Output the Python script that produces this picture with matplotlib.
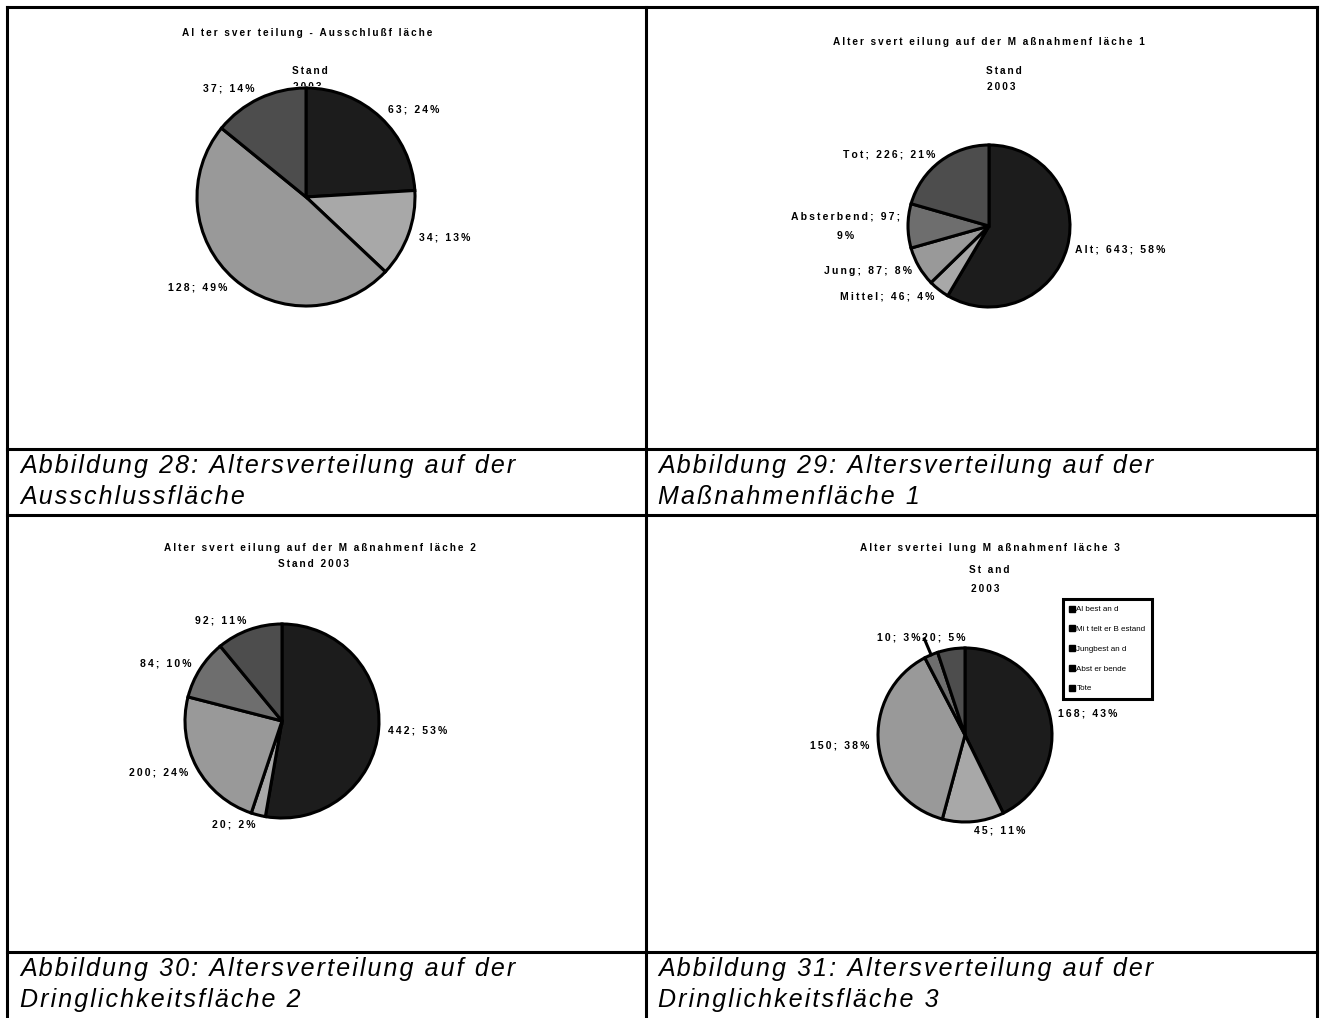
"""
Altersverteilung - vier Kreisdiagramme mit Bildunterschriften
(Tabelle mit 2 x 2 Zellen, wie in der Vorlage)
"""
import matplotlib
matplotlib.use('Agg')
import matplotlib.pyplot as plt
from matplotlib.lines import Line2D
from matplotlib.transforms import Bbox, TransformedBbox
import numpy as np

W, H = 1321, 1018
DPI = 100
THIN = '\u2009'
HAIR = '\u200a'

# Abbildung 28 - Ausschlussflaeche
werte_28 = [63, 34, 128, 37]
proz_28 = [24, 13, 49, 14]
farben_28 = ['#1c1c1c', '#a8a8a8', '#999999', '#4d4d4d']

# Abbildung 29 - Massnahmenflaeche 1
namen_29 = ['Alt', 'Mittel', 'Jung', 'Absterbend', 'Tot']
werte_29 = [643, 46, 87, 97, 226]
proz_29 = [58, 4, 8, 9, 21]

# Abbildung 30 - Massnahmenflaeche 2
werte_30 = [442, 20, 200, 84, 92]
proz_30 = [53, 2, 24, 10, 11]

# Abbildung 31 - Massnahmenflaeche 3
werte_31 = [168, 45, 150, 10, 20]
proz_31 = [43, 11, 38, 3, 5]
legende_31 = ['Al best an d', 'Mi t telt er B estand', 'Jungbest an d', 'Abst er bende', 'Tote']

farben = ['#1c1c1c', '#a8a8a8', '#999999', '#6e6e6e', '#4d4d4d']

titel = ['Al ter sver teilung - Ausschlußf läche',
		 'Alter svert eilung auf der M aßnahmenf läche 1',
		 'Alter svert eilung auf der M aßnahmenf läche 2',
		 'Alter svertei lung M aßnahmenf läche 3']

unterschriften = [('Abbildung 28: Altersverteilung auf der', 'Ausschlussfläche'),
				  ('Abbildung 29: Altersverteilung auf der', 'Maßnahmenfläche 1'),
				  ('Abbildung 30: Altersverteilung auf der', 'Dringlichkeitsfläche 2'),
				  ('Abbildung 31: Altersverteilung auf der', 'Dringlichkeitsfläche 3')]


def sperren(s, sep=THIN):
	# PDF-typische Laufweite: schmale Leerzeichen zwischen allen Zeichen
	return '\n'.join(sep.join(zeile) for zeile in s.split('\n'))


def torte(fig, cx, cy, r, werte, cols, labels, fs=7.5):
	ax = fig.add_axes([(cx - 1.25 * r) / W, 1 - (cy + 1.25 * r) / H, 2.5 * r / W, 2.5 * r / H])
	wedges, texts = ax.pie(werte, colors=cols, labels=[sperren(l) for l in labels],
						   startangle=90, counterclock=False, labeldistance=1.1,
						   wedgeprops=dict(edgecolor='black', linewidth=2.2),
						   textprops=dict(fontsize=fs, fontweight='bold'))
	ax.set_xlim(-1.25, 1.25)
	ax.set_ylim(-1.25, 1.25)
	for t in texts:
		t.set_multialignment('center')
		t.set_linespacing(2.2)
	return ax, wedges, texts


def main():
	plt.rcParams['font.family'] = ['Liberation Sans', 'DejaVu Sans']
	fig = plt.figure(figsize=(W / DPI, H / DPI), dpi=DPI)

	# Hintergrund in Pixelkoordinaten: Tabellenlinien und Texte
	bg = fig.add_axes([0, 0, 1, 1])
	bg.set_xlim(0, W)
	bg.set_ylim(H, 0)
	bg.axis('off')

	lw = 2.2
	links, rechts, mitte = 7, 1317, 646
	bg.plot([links, rechts], [7, 7], color='black', lw=lw)
	for y in [449, 515, 952]:
		bg.plot([links, rechts], [y, y], color='black', lw=lw)
	for x in [links, mitte, rechts]:
		bg.plot([x, x], [7, H], color='black', lw=lw)

	# Bildunterschriften
	for i, (z1, z2) in enumerate(unterschriften):
		x = 20 if i % 2 == 0 else 658
		y0 = 473 if i < 2 else 976
		bg.text(x, y0, sperren(z1, HAIR), fontsize=18, style='italic', va='baseline')
		bg.text(x, y0 + 30.5, sperren(z2, HAIR), fontsize=18, style='italic', va='baseline')

	tk = dict(fontsize=7.2, fontweight='bold', ha='center', va='center')

	# Diagramm 1
	bg.text(307, 33, sperren(titel[0]), **tk)
	bg.text(310, 71, sperren('Stand'), **tk)
	t = bg.text(307, 87, sperren('2003'), **tk)
	t.set_clip_box(TransformedBbox(Bbox([[0, 1 - 85.5 / H], [1, 1]]), fig.transFigure))
	t.set_clip_on(True)
	torte(fig, 306, 197, 109, werte_28, farben_28,
		  [f'{v}; {p}%' for v, p in zip(werte_28, proz_28)])

	# Diagramm 2
	bg.text(989, 42, sperren(titel[1]), **tk)
	bg.text(1004, 71, sperren('Stand'), **tk)
	bg.text(1001, 87, sperren('2003'), **tk)
	lab_29 = [f'{n}; {v}; {p}%' for n, v, p in zip(namen_29, werte_29, proz_29)]
	lab_29[3] = f'{namen_29[3]}; {werte_29[3]};\n{proz_29[3]}%'
	torte(fig, 989, 226, 81, werte_29, farben, lab_29)

	# Diagramm 3
	bg.text(320, 548, sperren(titel[2]), **tk)
	bg.text(313, 564, sperren('Stand 2003'), **tk)
	torte(fig, 282, 721, 97, werte_30, farben,
		  [f'{v}; {p}%' for v, p in zip(werte_30, proz_30)])

	# Diagramm 4
	bg.text(990, 548, sperren(titel[3]), **tk)
	bg.text(989, 570, sperren('St and'), **tk)
	bg.text(985, 589, sperren('2003'), **tk)
	ax4, wedges4, texts4 = torte(fig, 965, 735, 87, werte_31, farben,
								 [f'{v}; {p}%' for v, p in zip(werte_31, proz_31)])
	# kleines Stueck mit Fuehrungslinie
	w = wedges4[3]
	m = np.deg2rad((w.theta1 + w.theta2) / 2)
	xe, ye = 1.2 * np.cos(m), 1.2 * np.sin(m)
	ax4.plot([np.cos(m), xe], [np.sin(m), ye], color='black', lw=2.2, clip_on=False)
	texts4[3].set_position((xe - 0.05, ye + 0.01))
	texts4[3].set_ha('right')
	texts4[4].set_position((xe - 0.03, ye + 0.01))
	texts4[4].set_ha('left')

	griffe = [Line2D([], [], marker='s', color='black', linestyle='none', markersize=3.8)
			  for _ in legende_31]
	leg = ax4.legend(griffe, legende_31, loc='upper left',
					 bbox_to_anchor=(1063 / W, 1 - 599 / H), bbox_transform=fig.transFigure,
					 borderaxespad=0, fancybox=False, edgecolor='black', framealpha=1,
					 fontsize=5.8, labelspacing=1.5, handlelength=0.5, handletextpad=0.3,
					 borderpad=0.85)
	leg.get_frame().set_linewidth(2.2)

	fig.savefig('out.png', dpi=DPI, facecolor='white')


if __name__ == '__main__':
	main()
